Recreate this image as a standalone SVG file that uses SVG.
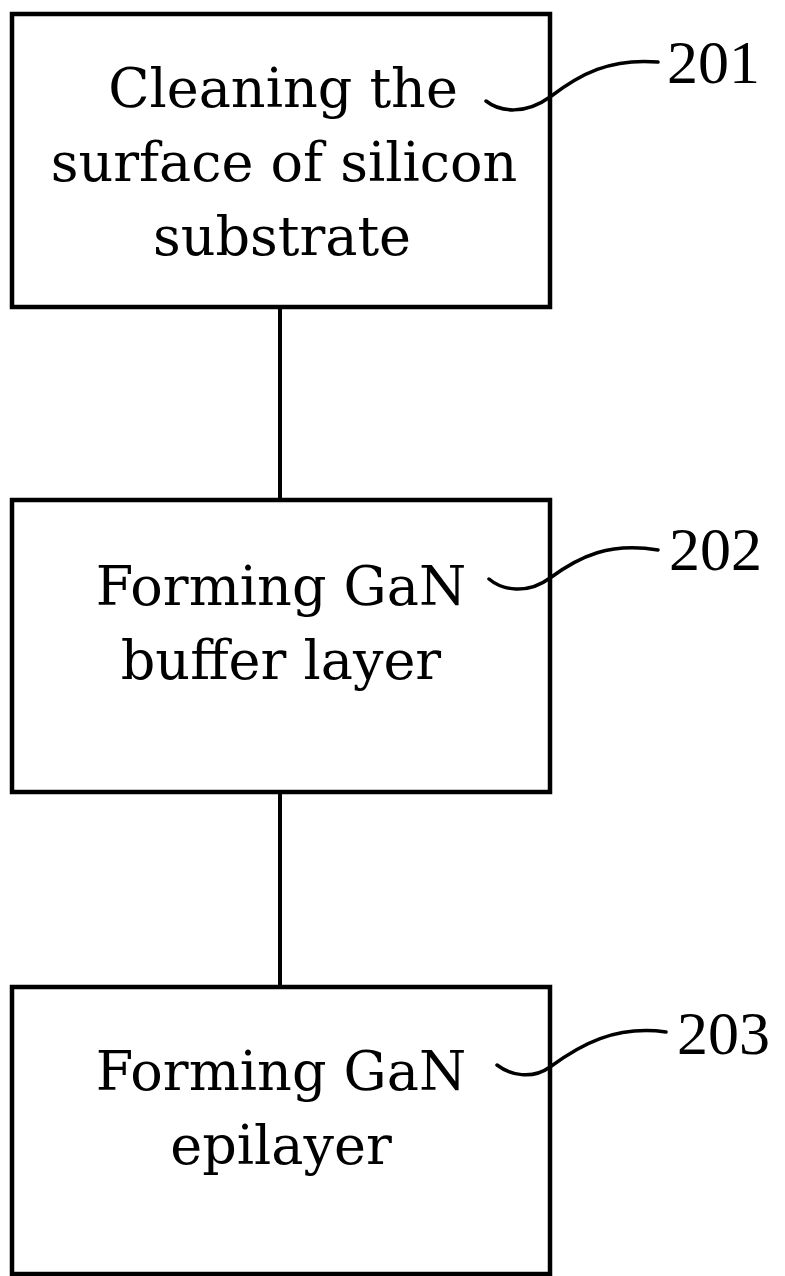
<svg xmlns="http://www.w3.org/2000/svg" width="785" height="1276" viewBox="0 0 785 1276">
<style>
.box{fill:none;stroke:#000;stroke-width:4.5}
.conn{stroke:#000;stroke-width:4;fill:none}
.lead{stroke:#000;stroke-width:3.5;fill:none;stroke-linecap:round}
.t{font-family:"DejaVu Serif","Liberation Serif",serif;font-size:54px;fill:#000;text-anchor:middle}
.n{font-family:"Liberation Serif","DejaVu Serif",serif;font-size:62px;fill:#000}
</style>
<rect width="785" height="1276" fill="#fff"/>
<g id="connectors">
<line class="conn" x1="280" y1="307" x2="280" y2="500"/>
<line class="conn" x1="280" y1="792" x2="280" y2="987"/>
</g>
<g id="node201">
<rect class="box" x="12" y="14" width="538" height="293"/>
<text class="t" x="283" y="107">Cleaning the</text>
<text class="t" x="284" y="181">surface of silicon</text>
<text class="t" x="282" y="255">substrate</text>
<path class="lead" d="M486,101 C500,112 525,115 550,97 C580,74 610,58 658,62"/>
<text class="n" x="667" y="83">201</text>
</g>
<g id="node202">
<rect class="box" x="12" y="500" width="538" height="292"/>
<text class="t" x="281" y="605">Forming GaN</text>
<text class="t" x="281" y="679">buffer layer</text>
<path class="lead" d="M489,579 C502,590 527,595 550,578 C580,556 610,542 658,550"/>
<text class="n" x="669" y="570">202</text>
</g>
<g id="node203">
<rect class="box" x="12" y="987" width="538" height="287"/>
<text class="t" x="281" y="1090">Forming GaN</text>
<text class="t" x="281" y="1164">epilayer</text>
<path class="lead" d="M497,1065 C510,1075 532,1080 550,1067 C580,1045 615,1025 666,1032"/>
<text class="n" x="677" y="1054">203</text>
</g>
</svg>
